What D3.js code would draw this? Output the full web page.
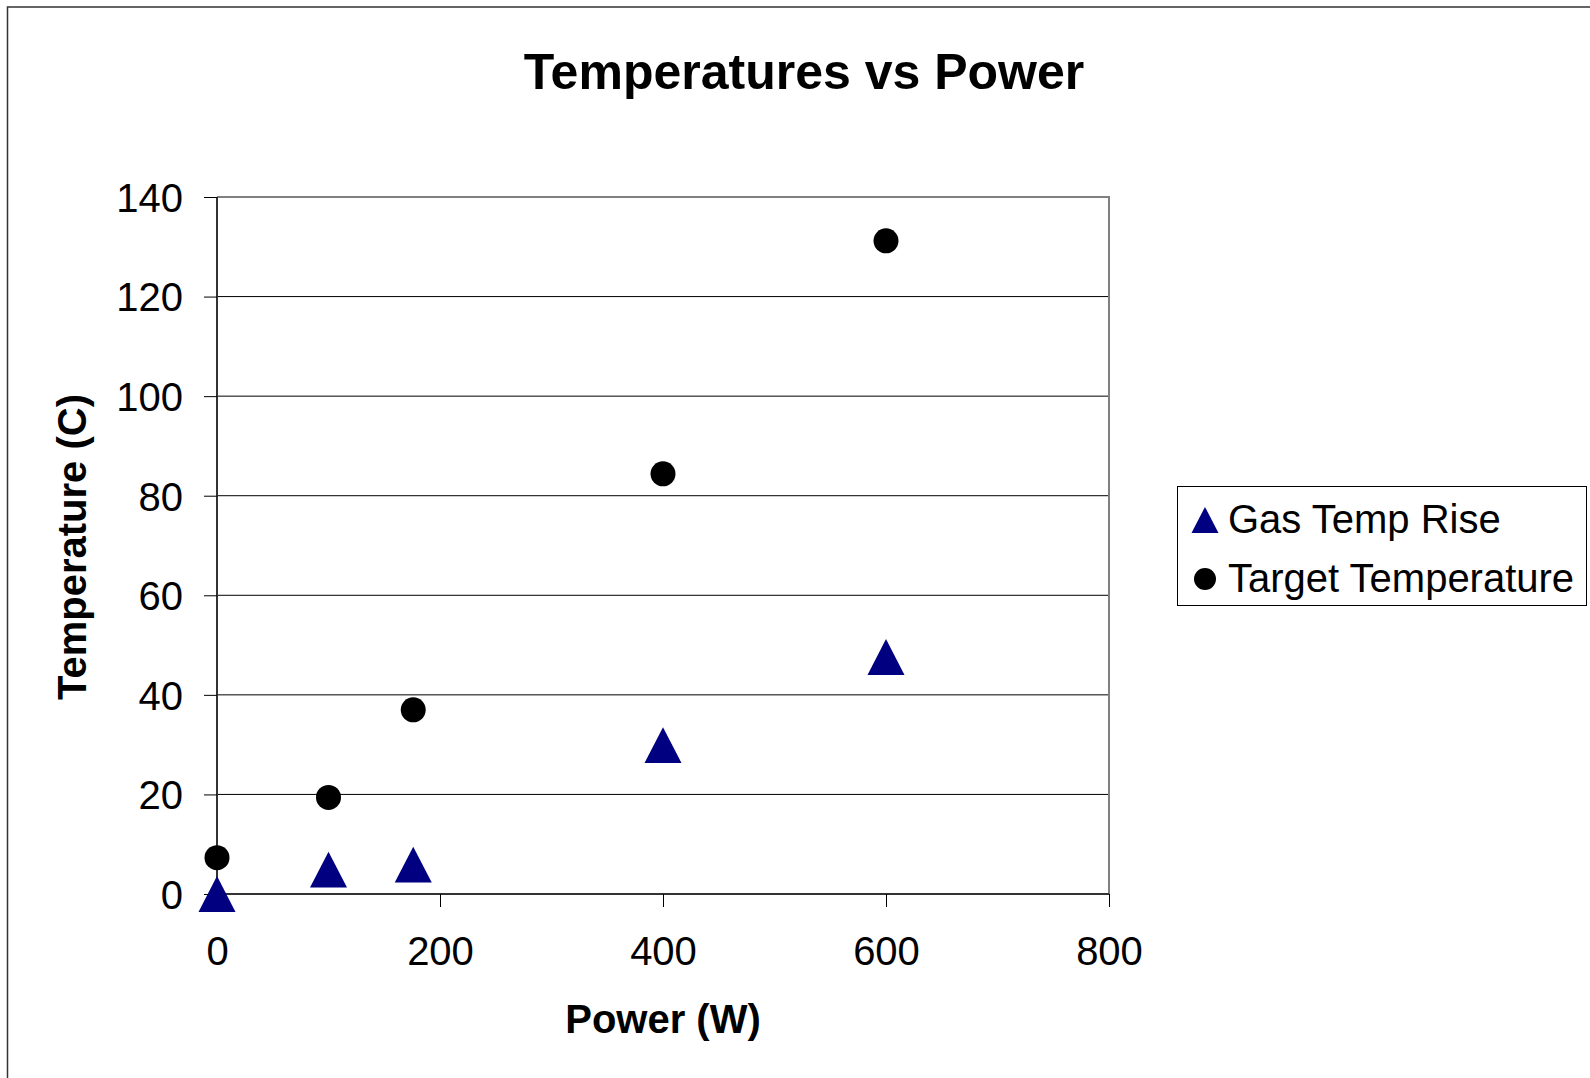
<!DOCTYPE html>
<html>
    <head>
        <meta charset="utf-8">
        <style>
            body { margin: 0; background: #fff; }
            text { font-family: "Liberation Sans", Arial, sans-serif; fill: #000; }
        </style>
    </head>
    <body>
        <svg id="cont" width="1590" height="1078"></svg>

        <script src="https://cdn.jsdelivr.net/npm/d3@7"></script>
        <script>
            // data
            var power = [0, 100, 176, 400, 600];
            var gasTempRise = [0, 4.9, 5.9, 29.9, 47.6];
            var targetTemp = [7.3, 19.4, 37, 84.4, 131.2];
            var xTicks = [0, 200, 400, 600, 800];
            var yTicks = [0, 20, 40, 60, 80, 100, 120, 140];
            var seriesNames = ["Gas Temp Rise", "Target Temperature"];

            var svg = d3.select("#cont");

            // outer chart frame (runs off the right and bottom of the picture)
            svg.append("rect")
                .attr("x", 7.5).attr("y", 7)
                .attr("width", 1700).attr("height", 1200)
                .attr("fill", "none")
                .attr("stroke", "#333")
                .attr("stroke-width", 1.5);

            var plotL = 217, plotR = 1109, plotT = 197, plotB = 894;

            let x = d3.scaleLinear().domain([0, 800]).range([plotL, plotR]);
            let y = d3.scaleLinear().domain([0, 140]).range([plotB, plotT]);

            // gridlines
            svg.append("g")
                .selectAll("line")
                .data(yTicks.filter(d => d > 0 && d < 140))
                .enter()
                .append("line")
                .attr("x1", plotL).attr("x2", plotR)
                .attr("y1", d => y(d)).attr("y2", d => y(d))
                .attr("stroke", "#000")
                .attr("stroke-width", 1);

            // plot area border (top / right in gray)
            svg.append("path")
                .attr("d", `M${plotL},${plotT}H${plotR}V${plotB}`)
                .attr("fill", "none")
                .attr("stroke", "#808080")
                .attr("stroke-width", 2);

            // axes
            let xAxis = d3.axisBottom(x).tickValues(xTicks).tickSize(13).tickPadding(30);
            let yAxis = d3.axisLeft(y).tickValues(yTicks).tickSize(13).tickPadding(21);

            let gx = svg.append("g")
                .attr("transform", `translate(0,${plotB})`)
                .call(xAxis);
            let gy = svg.append("g")
                .attr("transform", `translate(${plotL},0)`)
                .call(yAxis);

            [gx, gy].forEach(g => {
                g.select(".domain").attr("stroke", "#333").attr("stroke-width", 2);
                g.selectAll(".tick line").attr("stroke", "#000").attr("stroke-width", 1);
                g.selectAll(".tick text")
                    .attr("font-size", 40)
                    .attr("font-family", "Liberation Sans, Arial, sans-serif")
                    .attr("fill", "#000");
            });
            gy.select(".domain").attr("d", `M0,${plotB}V${plotT}`);
            gx.select(".domain").attr("d", `M${plotL},0H${plotR}`);
            gy.selectAll(".tick text").attr("dy", "0.36em");

            // title and axis titles
            svg.append("text")
                .attr("x", 804).attr("y", 89)
                .attr("text-anchor", "middle")
                .attr("font-size", 50)
                .attr("font-weight", "bold")
                .text("Temperatures vs Power");

            svg.append("text")
                .attr("x", 663).attr("y", 1033)
                .attr("text-anchor", "middle")
                .attr("font-size", 40)
                .attr("font-weight", "bold")
                .text("Power (W)");

            svg.append("text")
                .attr("transform", "translate(86,547) rotate(-90)")
                .attr("text-anchor", "middle")
                .attr("font-size", 40)
                .attr("font-weight", "bold")
                .text("Temperature (C)");

            function triangle(cx, cy, w) {
                var h = w * 0.97;
                return `M${cx},${cy - h / 2}L${cx + w / 2},${cy + h / 2}L${cx - w / 2},${cy + h / 2}Z`;
            }

            // series
            svg.append("g")
                .selectAll("path")
                .data(power.map((p, i) => ({p: p, v: gasTempRise[i]})))
                .enter()
                .append("path")
                .attr("d", d => triangle(x(d.p), y(d.v), 37))
                .attr("fill", "#000080");

            svg.append("g")
                .selectAll("circle")
                .data(power.map((p, i) => ({p: p, v: targetTemp[i]})))
                .enter()
                .append("circle")
                .attr("cx", d => x(d.p))
                .attr("cy", d => y(d.v))
                .attr("r", 12.5)
                .attr("fill", "#000");

            // legend
            let lg = svg.append("g");
            lg.append("rect")
                .attr("x", 1177.5).attr("y", 486.5)
                .attr("width", 409).attr("height", 119)
                .attr("fill", "#fff")
                .attr("stroke", "#000")
                .attr("stroke-width", 1);

            let items = lg.selectAll(".item")
                .data(seriesNames)
                .enter()
                .append("g")
                .attr("transform", (d, i) => `translate(0,${520 + i * 59})`);

            items.append("path")
                .attr("d", (d, i) => i === 0 ? triangle(1205, 0, 27) : d3.symbol(d3.symbolCircle, 380)())
                .attr("transform", (d, i) => i === 0 ? null : "translate(1205,0)")
                .attr("fill", (d, i) => i === 0 ? "#000080" : "#000");

            items.append("text")
                .attr("x", 1228)
                .attr("y", 13)
                .attr("font-size", 40)
                .text(d => d);
        </script>
    </body>
</html>
